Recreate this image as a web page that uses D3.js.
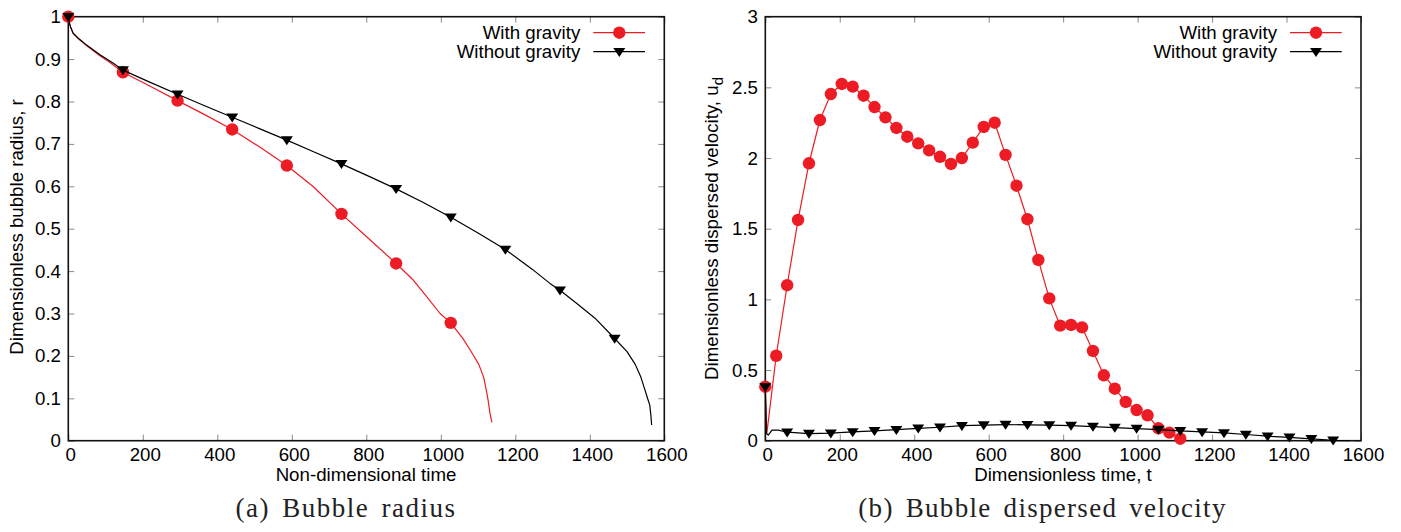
<!DOCTYPE html>
<html>
<head>
<meta charset="utf-8">
<script src="https://cdn.jsdelivr.net/npm/d3@7"></script>
<style>
  html, body { margin: 0; padding: 0; background: #fff; }
  svg { display: block; }
  .tick text { font-family: "Liberation Sans", Arial, sans-serif; font-size: 18.7px; fill: #000; }
</style>
</head>
<body>
<svg id="chart" width="1401" height="532"></svg>
<script>
// ---------- Panel (a): bubble radius ----------
const radiusXTickLabels = ["0", "200", "400", "600", "800", "1000", "1200", "1400", "1600"];
const radiusYTickLabels = ["0", "0.1", "0.2", "0.3", "0.4", "0.5", "0.6", "0.7", "0.8", "0.9", "1"];

// With gravity: curve samples
const radiusTimeG = [0, 2, 6, 13, 27, 49, 85, 110, 146.7, 220, 293.3, 366, 440, 513, 586.7, 658, 733.3, 806, 880, 926, 960, 998, 1026.7, 1060, 1085, 1102, 1115, 1122, 1127, 1132, 1137];
const radiusG     = [1.0, 0.988, 0.976, 0.961, 0.948, 0.932, 0.908, 0.893, 0.869, 0.836, 0.802, 0.769, 0.734, 0.693, 0.649, 0.599, 0.535, 0.477, 0.418, 0.379, 0.342, 0.300, 0.278, 0.240, 0.205, 0.180, 0.150, 0.120, 0.095, 0.065, 0.043];
// With gravity: marker samples
const radiusMarkTimeG = [0, 146.7, 293.3, 440, 586.7, 733.3, 880, 1026.7];
const radiusMarkG     = [1.0, 0.869, 0.802, 0.734, 0.649, 0.535, 0.418, 0.278];

// Without gravity: curve samples
const radiusTimeNG = [0, 2, 6, 13, 27, 49, 85, 121, 146.7, 220, 293.3, 366, 440, 513, 586.7, 660, 733.3, 806, 880, 953, 1026.7, 1100, 1173.3, 1246, 1293, 1320, 1366, 1414, 1466.7, 1500, 1522, 1537, 1548, 1555, 1561, 1564, 1566];
const radiusNG     = [1.0, 0.988, 0.976, 0.961, 0.949, 0.933, 0.910, 0.890, 0.874, 0.845, 0.817, 0.790, 0.763, 0.736, 0.709, 0.681, 0.653, 0.624, 0.594, 0.562, 0.527, 0.490, 0.451, 0.404, 0.371, 0.355, 0.323, 0.289, 0.241, 0.210, 0.180, 0.150, 0.120, 0.100, 0.084, 0.060, 0.037];
// Without gravity: marker samples
const radiusMarkTimeNG = [0, 146.7, 293.3, 440, 586.7, 733.3, 880, 1026.7, 1173.3, 1320, 1466.7];
const radiusMarkNG     = [1.0, 0.874, 0.817, 0.763, 0.709, 0.653, 0.594, 0.527, 0.451, 0.355, 0.241];

// ---------- Panel (b): dispersed velocity ----------
const velXTickLabels = ["0", "200", "400", "600", "800", "1000", "1200", "1400", "1600"];
const velYTickLabels = ["0", "0.5", "1", "1.5", "2", "2.5", "3"];

// With gravity: marked samples
const velTimeG = [0, 29.3, 58.7, 88, 117.3, 146.7, 176, 205.3, 234.7, 264, 293.3, 322.7, 352, 381.3, 410.7, 440, 469.3, 498.7, 528, 557.3, 586.7, 616, 645.3, 674.7, 704, 733.3, 762.7, 792, 821.3, 850.7, 880, 909.3, 938.7, 968, 997.3, 1026.7, 1056, 1085.3, 1114.7];
const velG     = [0.382, 0.601, 1.10, 1.562, 1.963, 2.269, 2.453, 2.524, 2.505, 2.441, 2.361, 2.288, 2.213, 2.151, 2.104, 2.054, 2.009, 1.958, 2.0, 2.109, 2.22, 2.25, 2.022, 1.804, 1.567, 1.279, 1.007, 0.814, 0.819, 0.802, 0.635, 0.463, 0.368, 0.274, 0.217, 0.18, 0.088, 0.057, 0.014];
// With gravity: unmarked start-up sample
const velDipTimeG = [4];
const velDipG     = [0.05];

// Without gravity: marked samples
const velTimeNG = [0, 58.7, 117.3, 176, 234.7, 293.3, 352, 410.7, 469.3, 528, 586.7, 645.3, 704, 762.7, 821.3, 880, 938.7, 997.3, 1056, 1114.7, 1173.3, 1232, 1290.7, 1349.3, 1408, 1466.7, 1525.3];
const velNG     = [0.38, 0.06, 0.05, 0.053, 0.062, 0.07, 0.078, 0.087, 0.095, 0.106, 0.11, 0.114, 0.112, 0.11, 0.107, 0.1, 0.093, 0.086, 0.079, 0.07, 0.062, 0.055, 0.044, 0.032, 0.024, 0.013, 0.003];
// Without gravity: unmarked samples
const velExtraTimeNG = [3, 8, 18, 35, 1570];
const velExtraNG     = [0.05, 0.04, 0.075, 0.075, 0.0];

const seriesNames = ["With gravity", "Without gravity"];
const RED = "#ed1c24", BLACK = "#000";

const svg = d3.select("#chart");
const FONT = '"Liberation Sans", Arial, sans-serif';

const zip = (xs, ys) => xs.map((x, i) => [x, ys[i]]);
const sortByT = arr => arr.slice().sort((a, b) => a[0] - b[0]);

const triPath = "M-6,-3.8L6,-3.8L0,5.2Z";

function panel(cfg) {
  const { x0, x1, y0, y1, xDomain, yDomain, xLabels, yLabels } = cfg;
  const x = d3.scaleLinear().domain(xDomain).range([x0, x1]);
  const y = d3.scaleLinear().domain(yDomain).range([y1, y0]);
  const g = svg.append("g");

  const xVals = xLabels.map(Number), yVals = yLabels.map(Number);
  const fmtX = d => xLabels[xVals.indexOf(d)];
  const fmtY = d => yLabels[yVals.indexOf(d)];

  // inward ticks on all four sides
  const bottom = g.append("g").attr("transform", `translate(0,${y1})`)
    .call(d3.axisBottom(x).tickValues(xVals).tickFormat(fmtX).tickSizeInner(-6).tickSizeOuter(0).tickPadding(7.5));
  bottom.selectAll("text").attr("dx", 2);
  g.append("g").attr("transform", `translate(${x0},0)`)
    .call(d3.axisLeft(y).tickValues(yVals).tickFormat(fmtY).tickSizeInner(-6).tickSizeOuter(0).tickPadding(7.3));
  g.append("g").attr("transform", `translate(0,${y0})`)
    .call(d3.axisTop(x).tickValues(xVals).tickFormat("").tickSizeInner(-6).tickSizeOuter(0));
  g.append("g").attr("transform", `translate(${x1},0)`)
    .call(d3.axisRight(y).tickValues(yVals).tickFormat("").tickSizeInner(-6).tickSizeOuter(0));
  g.selectAll(".domain").remove();
  g.selectAll(".tick line").attr("stroke", "#8a8a8a").attr("stroke-width", 1);
  g.selectAll(".tick text").attr("font-family", FONT).attr("font-size", 18.7);

  // border
  g.append("rect").attr("x", x0).attr("y", y0).attr("width", x1 - x0).attr("height", y1 - y0)
    .attr("fill", "none").attr("stroke", "#111").attr("stroke-width", 1.6);

  return { g, x, y };
}

function drawSeries(p, linePts, markPts, color, shape) {
  const line = d3.line().x(d => p.x(d[0])).y(d => p.y(d[1]));
  p.g.append("path").datum(linePts).attr("d", line)
    .attr("fill", "none").attr("stroke", color).attr("stroke-width", 1.2).attr("stroke-linejoin", "round");
  const m = p.g.append("g");
  if (shape === "circle") {
    m.selectAll("circle").data(markPts).join("circle")
      .attr("cx", d => p.x(d[0])).attr("cy", d => p.y(d[1])).attr("r", 6.2).attr("fill", color);
  } else {
    m.selectAll("path").data(markPts).join("path")
      .attr("transform", d => `translate(${p.x(d[0])},${p.y(d[1])})`).attr("d", triPath).attr("fill", color);
  }
}

function legend(p, x1, y0) {
  const rows = [
    { name: seriesNames[0], color: RED, shape: "circle" },
    { name: seriesNames[1], color: BLACK, shape: "tri" }
  ];
  rows.forEach((r, i) => {
    const cy = y0 + 16 + i * 19;
    p.g.append("text").attr("x", x1 - 84).attr("y", cy + 6.6).attr("text-anchor", "end")
      .attr("font-family", FONT).attr("font-size", 18.7).text(r.name);
    p.g.append("line").attr("x1", x1 - 71).attr("x2", x1 - 19.3).attr("y1", cy).attr("y2", cy)
      .attr("stroke", r.color).attr("stroke-width", 1.2);
    if (r.shape === "circle") {
      p.g.append("circle").attr("cx", x1 - 45).attr("cy", cy).attr("r", 6.2).attr("fill", r.color);
    } else {
      p.g.append("path").attr("transform", `translate(${x1 - 45},${cy})`).attr("d", triPath).attr("fill", r.color);
    }
  });
}

function textAt(x, y, str, opts = {}) {
  const t = svg.append("text").attr("x", x).attr("y", y)
    .attr("text-anchor", opts.anchor || "middle")
    .attr("font-family", opts.family || FONT)
    .attr("font-size", opts.size || 18.7)
    .attr("fill", opts.fill || "#000");
  if (opts.rotate) t.attr("transform", `rotate(${opts.rotate},${x},${y})`);
  if (opts.letterSpacing) t.attr("letter-spacing", opts.letterSpacing);
  if (opts.wordSpacing) t.attr("word-spacing", opts.wordSpacing);
  return t.text(str);
}

// ----- panel (a)
const A = panel({ x0: 68.3, x1: 664.3, y0: 16.7, y1: 440.7, xDomain: [0, 1600], yDomain: [0, 1],
  xLabels: radiusXTickLabels, yLabels: radiusYTickLabels });
drawSeries(A, zip(radiusTimeG, radiusG), zip(radiusMarkTimeG, radiusMarkG), RED, "circle");
drawSeries(A, zip(radiusTimeNG, radiusNG), zip(radiusMarkTimeNG, radiusMarkNG), BLACK, "tri");
legend(A, 664.3, 16.7);
textAt(366, 481, "Non-dimensional time");
textAt(22.5, 227, "Dimensionless bubble radius, r", { rotate: -90 });

// ----- panel (b)
const B = panel({ x0: 765.3, x1: 1361, y0: 16.7, y1: 440.7, xDomain: [0, 1600], yDomain: [0, 3],
  xLabels: velXTickLabels, yLabels: velYTickLabels });
const velMarkG = zip(velTimeG, velG);
const velLineG = sortByT(velMarkG.concat(zip(velDipTimeG, velDipG)));
const velMarkNG = zip(velTimeNG, velNG);
const velLineNG = sortByT(velMarkNG.concat(zip(velExtraTimeNG, velExtraNG)));
drawSeries(B, velLineG, velMarkG, RED, "circle");
drawSeries(B, velLineNG, velMarkNG, BLACK, "tri");
legend(B, 1361, 16.7);
textAt(1063, 481, "Dimensionless time, t");
const yl = textAt(718.3, 228.5, "Dimensionless dispersed velocity, u", { rotate: -90 });
yl.append("tspan").attr("dy", 5).attr("font-size", 15).text("d");

// ----- captions
const CAP = '"Liberation Serif", "Times New Roman", serif';
textAt(346, 516.7, "(a) Bubble radius", { family: CAP, size: 27, fill: "#222", letterSpacing: 1.5, wordSpacing: 4 });
textAt(1042.5, 516.7, "(b) Bubble dispersed velocity", { family: CAP, size: 27, fill: "#222", letterSpacing: 1.3, wordSpacing: 4 });
</script>
</body>
</html>
